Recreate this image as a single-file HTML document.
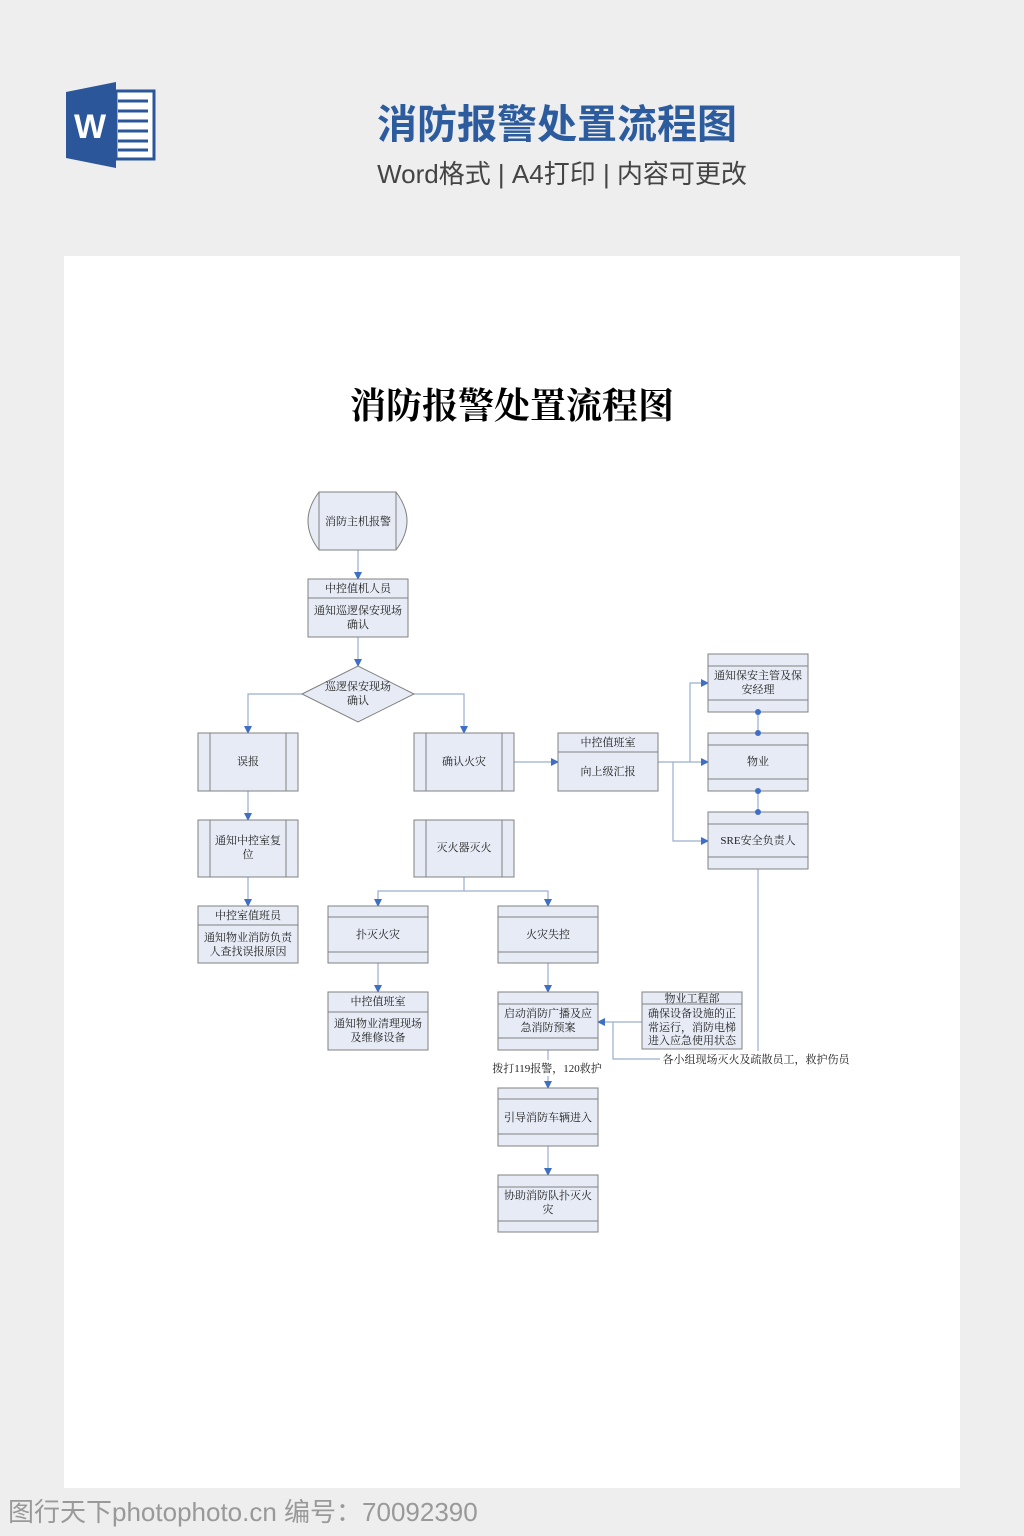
<!DOCTYPE html>
<html><head><meta charset="utf-8"><style>
body{margin:0;width:1024px;height:1536px;background:#eeeeef;overflow:hidden;position:relative;font-family:"Liberation Serif","Noto Serif CJK SC",serif}
.t1{position:absolute;left:0;width:1114px;top:92px;text-align:center;font:bold 40px "Liberation Sans","Noto Sans CJK SC",sans-serif;color:#2d5c9e}
.t2{position:absolute;left:0;width:1124px;top:154px;text-align:center;font:26px "Liberation Sans","Noto Sans CJK SC",sans-serif;color:#444}
.page{position:absolute;left:64px;top:256px;width:896px;height:1232px;background:#fff}
.wm{position:absolute;left:8px;top:1492px;font:26px "Liberation Sans","Noto Sans CJK SC",sans-serif;color:#999}
</style></head><body>
<svg style="position:absolute;left:0;top:0" width="180" height="190">
<polygon points="66,92 116,82 116,168 66,158" fill="#2b579a"/>
<rect x="116" y="91" width="38" height="68" fill="#fff" stroke="#2b579a" stroke-width="3"/>
<g stroke="#2b579a" stroke-width="3"><line x1="118" y1="101" x2="148" y2="101"/><line x1="118" y1="111" x2="148" y2="111"/><line x1="118" y1="121" x2="148" y2="121"/><line x1="118" y1="131" x2="148" y2="131"/><line x1="118" y1="141" x2="148" y2="141"/><line x1="118" y1="150" x2="148" y2="150"/></g>
<text x="74" y="138" font-family="Liberation Sans" font-weight="bold" font-size="34" fill="#fff">W</text>
</svg>
<div class="t1">消防报警处置流程图</div>
<div class="t2">Word格式 | A4打印 | 内容可更改</div>
<div class="page"></div>
<svg style="position:absolute;left:0;top:0" width="1024" height="1536" font-family="Liberation Serif,Noto Serif CJK SC,serif">
<defs><marker id="a" markerWidth="8" markerHeight="8" refX="7" refY="4" orient="auto" markerUnits="userSpaceOnUse"><path d="M0,0L8,4L0,8z" fill="#3f6fc4"/></marker></defs>
<text x="512" y="418" text-anchor="middle" font-size="36" font-weight="bold" font-family="Liberation Serif,Noto Serif CJK SC,serif" fill="#000">消防报警处置流程图</text>
<g fill="none" stroke="#9aaed0" stroke-width="1.2" marker-end="url(#a)">
<path d="M358,550V579"/><path d="M358,637V666"/>
<path d="M302,694H248V733"/><path d="M414,694H464V733"/>
<path d="M514,762H558"/><path d="M658,762H708"/>
<path d="M690,762V683H708"/><path d="M673,762V841H708"/>
<path d="M248,791V820"/><path d="M248,877V906"/>
<path d="M464,877V891H378V906"/><path d="M464,891H548V906"/>
<path d="M378,963V992"/><path d="M548,963V992"/>
<path d="M642,1022H598"/>
<path d="M548,1050V1088"/><path d="M548,1146V1175"/>
</g>
<path d="M758,869V1059H613V1022" fill="none" stroke="#9aaed0" stroke-width="1.2"/>
<g stroke="#9aaed0" stroke-width="1.2"><line x1="758" y1="712" x2="758" y2="733"/><line x1="758" y1="791" x2="758" y2="812"/></g>
<g fill="#e6ebf5" stroke="#808080" stroke-width="1">
<path d="M319,492H396Q418,521 396,550H319Q297,521 319,492Z"/>
<rect x="308" y="579" width="100" height="58"/>
<polygon points="302,694 358,666 414,694 358,722"/>
<rect x="198" y="733" width="100" height="58"/><rect x="414" y="733" width="100" height="58"/>
<rect x="558" y="733" width="100" height="58"/>
<rect x="708" y="654" width="100" height="58"/><rect x="708" y="733" width="100" height="58"/><rect x="708" y="812" width="100" height="57"/>
<rect x="198" y="820" width="100" height="57"/><rect x="414" y="820" width="100" height="57"/>
<rect x="198" y="906" width="100" height="57"/><rect x="328" y="906" width="100" height="57"/><rect x="498" y="906" width="100" height="57"/>
<rect x="328" y="992" width="100" height="58"/><rect x="498" y="992" width="100" height="58"/>
<rect x="642" y="992" width="100" height="57"/>
<rect x="498" y="1088" width="100" height="58"/><rect x="498" y="1175" width="100" height="57"/>
</g>
<g fill="#3f6fc4"><circle cx="758" cy="712" r="3"/><circle cx="758" cy="733" r="3"/><circle cx="758" cy="791" r="3"/><circle cx="758" cy="812" r="3"/></g>
<g stroke="#808080" stroke-width="1">
<line x1="319" y1="492" x2="319" y2="550"/><line x1="396" y1="492" x2="396" y2="550"/>
<line x1="308" y1="598" x2="408" y2="598"/>
<line x1="210" y1="733" x2="210" y2="791"/><line x1="286" y1="733" x2="286" y2="791"/>
<line x1="426" y1="733" x2="426" y2="791"/><line x1="502" y1="733" x2="502" y2="791"/>
<line x1="558" y1="752" x2="658" y2="752"/>
<line x1="708" y1="666" x2="808" y2="666"/><line x1="708" y1="700" x2="808" y2="700"/>
<line x1="708" y1="745" x2="808" y2="745"/><line x1="708" y1="779" x2="808" y2="779"/>
<line x1="708" y1="824" x2="808" y2="824"/><line x1="708" y1="857" x2="808" y2="857"/>
<line x1="210" y1="820" x2="210" y2="877"/><line x1="286" y1="820" x2="286" y2="877"/>
<line x1="426" y1="820" x2="426" y2="877"/><line x1="502" y1="820" x2="502" y2="877"/>
<line x1="198" y1="925" x2="298" y2="925"/>
<line x1="328" y1="917" x2="428" y2="917"/><line x1="328" y1="952" x2="428" y2="952"/>
<line x1="498" y1="917" x2="598" y2="917"/><line x1="498" y1="952" x2="598" y2="952"/>
<line x1="328" y1="1012" x2="428" y2="1012"/>
<line x1="498" y1="1004" x2="598" y2="1004"/><line x1="498" y1="1038" x2="598" y2="1038"/>
<line x1="642" y1="1004" x2="742" y2="1004"/>
<line x1="498" y1="1099" x2="598" y2="1099"/><line x1="498" y1="1134" x2="598" y2="1134"/>
<line x1="498" y1="1187" x2="598" y2="1187"/><line x1="498" y1="1221" x2="598" y2="1221"/>
</g>
<rect x="490" y="1060" width="114" height="16" fill="#fff"/>
<rect x="660" y="1051" width="192" height="16" fill="#fff"/>
<g font-size="11" fill="#222" text-anchor="middle">
<text x="358" y="525">消防主机报警</text>
<text x="358" y="592">中控值机人员</text><text x="358" y="614">通知巡逻保安现场</text><text x="358" y="628">确认</text>
<text x="358" y="690">巡逻保安现场</text><text x="358" y="704">确认</text>
<text x="248" y="765">误报</text><text x="464" y="765">确认火灾</text>
<text x="608" y="746">中控值班室</text><text x="608" y="775">向上级汇报</text>
<text x="758" y="679">通知保安主管及保</text><text x="758" y="693">安经理</text>
<text x="758" y="765">物业</text><text x="758" y="844">SRE安全负责人</text>
<text x="248" y="844">通知中控室复</text><text x="248" y="858">位</text>
<text x="464" y="851">灭火器灭火</text>
<text x="248" y="919">中控室值班员</text><text x="248" y="941">通知物业消防负责</text><text x="248" y="955">人查找误报原因</text>
<text x="378" y="938">扑灭火灾</text><text x="548" y="938">火灾失控</text>
<text x="378" y="1005">中控值班室</text><text x="378" y="1027">通知物业清理现场</text><text x="378" y="1041">及维修设备</text>
<text x="548" y="1017">启动消防广播及应</text><text x="548" y="1031">急消防预案</text>
<text x="692" y="1002">物业工程部</text><text x="692" y="1017">确保设备设施的正</text><text x="692" y="1031">常运行，消防电梯</text><text x="692" y="1044">进入应急使用状态</text>
<text x="547" y="1072">拨打119报警，120救护</text>
<text x="756" y="1063">各小组现场灭火及疏散员工，救护伤员</text>
<text x="548" y="1121">引导消防车辆进入</text>
<text x="548" y="1199">协助消防队扑灭火</text><text x="548" y="1213">灾</text>
</g>
</svg>
<div class="wm">图行天下photophoto.cn 编号：70092390</div>
</body></html>
